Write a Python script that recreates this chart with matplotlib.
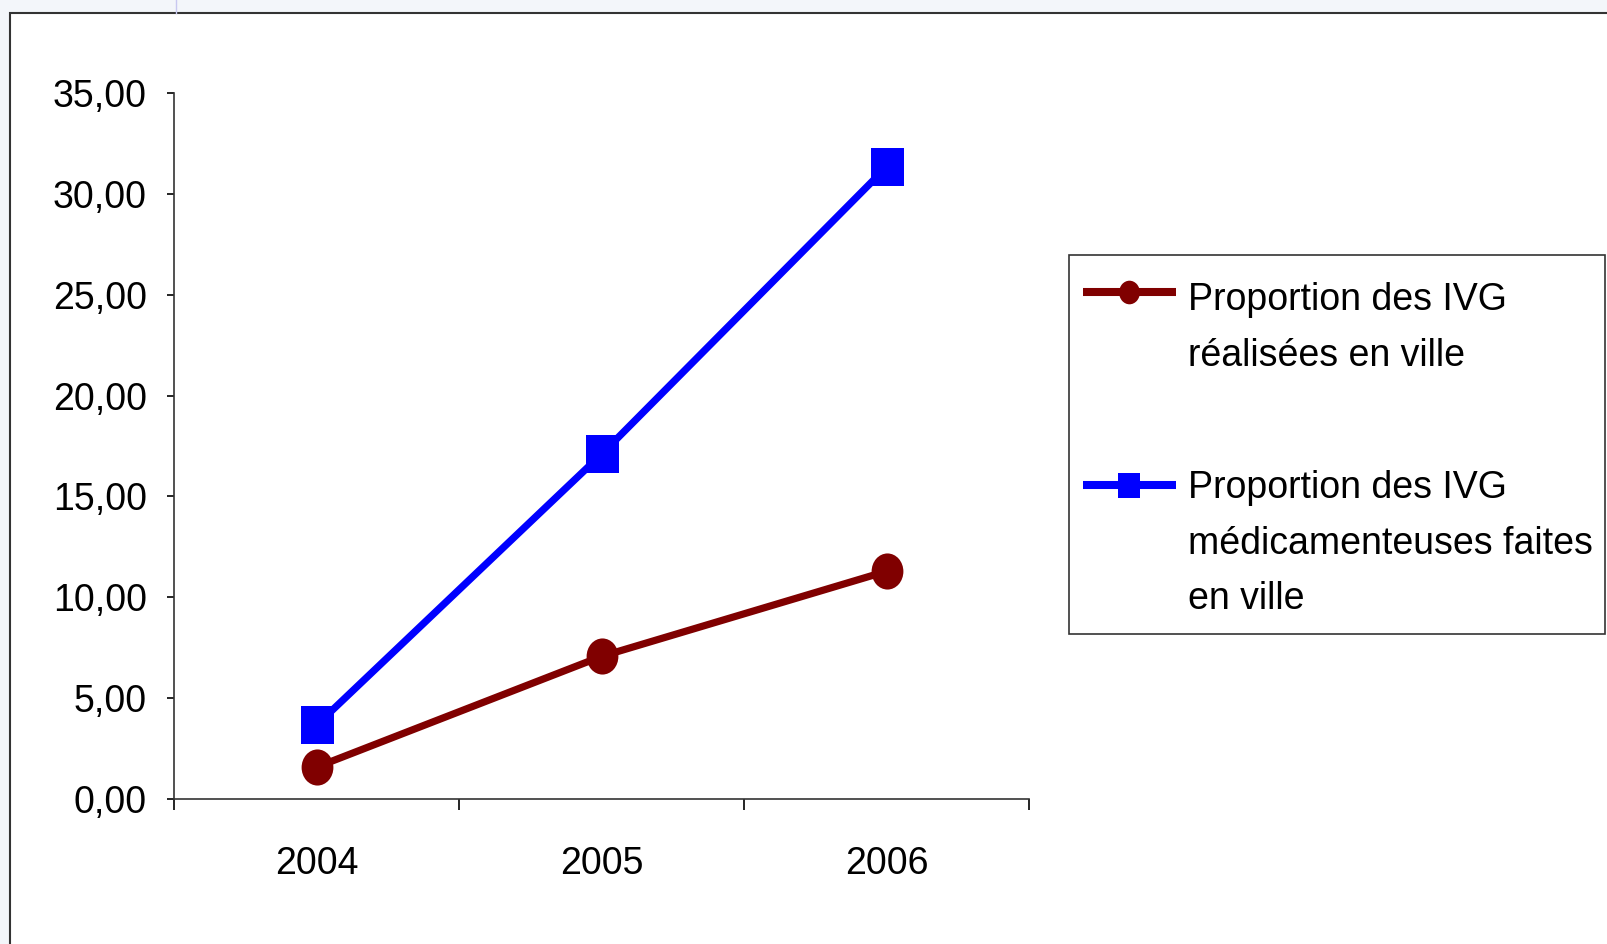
import matplotlib.pyplot as plt
from matplotlib.lines import Line2D
from matplotlib.patches import Rectangle
from matplotlib.path import Path

years = ['2004', '2005', '2006']
ville = [1.58, 7.07, 11.29]
medic = [3.66, 17.09, 31.33]
y_ticks = [0, 5, 10, 15, 20, 25, 30, 35]
label_ville = 'Proportion des IVG\nréalisées en ville'
label_medic = 'Proportion des IVG\nmédicamenteuses faites\nen ville'

plt.rcParams['font.family'] = ['Liberation Sans', 'DejaVu Sans']

red = '#800000'
blue = '#0000ff'
W, H = 1608, 944

fig = plt.figure(figsize=(16.08, 9.44), dpi=100, facecolor='#f3f6fa')
fig.patches.append(Rectangle((10 / W, -0.1), 1.2, 1 - 13 / H + 0.1,
                             transform=fig.transFigure, facecolor='white',
                             edgecolor='#333333', linewidth=1.5, zorder=-10))
fig.add_artist(Line2D([176 / W, 176 / W], [1 - 13 / H, 1],
                      transform=fig.transFigure, color='#c8c8f0', lw=1))

ax = fig.add_axes([174 / W, 1 - 799 / H, (1029 - 174) / W, (799 - 93) / H])
ax.set_facecolor('none')

# the original is slightly stretched vertically: oval dots, tall squares
circ = Path.unit_circle()
ellipse = Path(circ.vertices * [0.88, 1.0], circ.codes)
tall_sq = Path([(-0.44, -0.5), (0.44, -0.5), (0.44, 0.5), (-0.44, 0.5), (-0.44, -0.5)],
               [Path.MOVETO, Path.LINETO, Path.LINETO, Path.LINETO, Path.CLOSEPOLY])

x = range(len(years))
ax.plot(x, ville, color=red, lw=5.2, marker=ellipse, markersize=26,
        markeredgewidth=0, zorder=3)
ax.plot(x, medic, color=blue, lw=5.2, marker=tall_sq, markersize=27,
        markeredgewidth=0, zorder=3)

ax.set_xlim(-0.5, 2.5)
ax.set_ylim(0, 35)
ax.set_yticks(y_ticks)
ax.set_yticklabels([f'{v:.2f}'.replace('.', ',') for v in y_ticks], fontsize=27)
ax.set_xticks([-0.5, 0.5, 1.5, 2.5])
ax.set_xticklabels([])
ax.set_xticks(list(x), minor=True)
ax.set_xticklabels(years, minor=True, fontsize=27)
ax.tick_params(axis='x', which='major', length=8, width=1.2, direction='out')
ax.tick_params(axis='x', which='minor', length=0, pad=34)
ax.tick_params(axis='y', length=5, width=1.2, pad=14.5)
for s in ['top', 'right']:
    ax.spines[s].set_visible(False)
for s in ['left', 'bottom']:
    ax.spines[s].set_linewidth(1.2)
    ax.spines[s].set_color('#333333')

# legend drawn by hand so that each handle sits on the first line of its label
fig.patches.append(Rectangle((1069 / W, 1 - 634 / H), (1605 - 1069) / W, (634 - 255) / H,
                             transform=fig.transFigure, facecolor='white',
                             edgecolor='#333333', linewidth=1.2))
entries = [(label_ville, red, ellipse, 17, 292, 310),
           (label_medic, blue, tall_sq, 18, 485, 498)]
for label, color, mk, ms, y_handle, y_base in entries:
    fig.add_artist(Line2D([1083 / W, 1176 / W], [1 - y_handle / H] * 2,
                          transform=fig.transFigure, color=color, lw=5.8,
                          solid_capstyle='butt'))
    fig.add_artist(Line2D([1129 / W], [1 - y_handle / H], transform=fig.transFigure,
                          color=color, marker=mk, markersize=ms, markeredgewidth=0,
                          linestyle='none'))
    for i, line in enumerate(label.split('\n')):
        fig.text(1188 / W, 1 - (y_base + i * 55.5) / H, line, fontsize=27,
                 ha='left', va='baseline')

fig.savefig('out.png', dpi=100, facecolor=fig.get_facecolor())
